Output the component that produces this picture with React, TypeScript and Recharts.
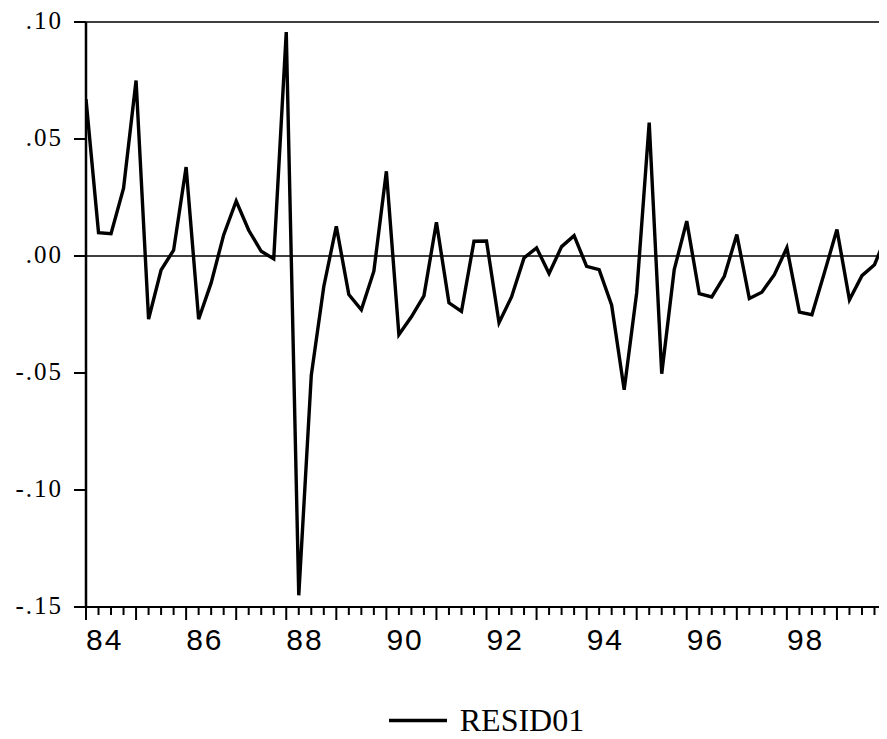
import React from 'react';
import { LineChart, Line, XAxis, YAxis, ReferenceLine, Legend } from 'recharts';

const startYear = 1984;
const residuals = [
  0.067, 0.010, 0.0095, 0.029, 0.075, -0.027, -0.006, 0.0025,
  0.038, -0.027, -0.0115, 0.009, 0.0235, 0.011, 0.002, -0.0012,
  0.0957, -0.145, -0.051, -0.013, 0.0127, -0.0165, -0.023, -0.0065,
  0.0362, -0.0336, -0.026, -0.017, 0.0144, -0.020, -0.0237, 0.0063,
  0.0064, -0.0285, -0.0175, -0.0008, 0.0035, -0.0075, 0.004, 0.0087,
  -0.0044, -0.0058, -0.021, -0.0572, -0.0157, 0.057, -0.0503, -0.0058,
  0.0149, -0.0161, -0.0175, -0.0087, 0.0092, -0.0182, -0.0155, -0.008,
  0.0035, -0.024, -0.0251, -0.0071, 0.0113, -0.0187, -0.0084, -0.0037,
  0.0092,
];
const yTicks = [-0.15, -0.1, -0.05, 0, 0.05, 0.1];
const xTicks = residuals.slice(0, 64).map((_, i) => startYear + i / 4);
const seriesName = 'RESID01';

const data = residuals.map((v, i) => ({ t: startYear + i / 4, v }));

const fmtY = (v: number) => {
  const s = v.toFixed(2);
  return s.replace('0.', '.');
};

const XTick = (props: any) => {
  const { x, y, payload } = props;
  const val = payload.value as number;
  const isYear = Math.abs(val - Math.round(val)) < 1e-9;
  const yr = Math.round(val);
  const showLabel = isYear && yr % 2 === 0;
  return (
    <g>
      <line x1={x} x2={x} y1={y} y2={y + (isYear ? 13 : 8)} stroke="#000" strokeWidth={2} />
      {showLabel && (
        <text
          x={x}
          y={y + 43}
          textAnchor="start"
          fontFamily="'Liberation Sans', Arial, sans-serif"
          fontSize={30}
          letterSpacing={2}
          fill="#000"
        >
          {String(yr % 100).padStart(2, '0')}
        </text>
      )}
    </g>
  );
};

const YTick = (props: any) => {
  const { x, y, payload } = props;
  return (
    <g>
      <line x1={x - 12} x2={x} y1={y} y2={y} stroke="#000" strokeWidth={2} />
      <text
        x={x - 23}
        y={y + 7}
        textAnchor="end"
        fontFamily="'Liberation Serif', 'Times New Roman', serif"
        fontSize={25}
        letterSpacing={2}
        fill="#000"
      >
        {fmtY(payload.value)}
      </text>
    </g>
  );
};

const LegendContent = () => (
  <div
    style={{
      marginLeft: 86,
      width: 801,
      height: 50,
      boxSizing: 'border-box',
      paddingTop: 12,
      display: 'flex',
      justifyContent: 'center',
      alignItems: 'center',
    }}
  >
    <svg width={58} height={5} style={{ display: 'block' }}>
      <line x1={0} x2={58} y1={2.5} y2={2.5} stroke="#000" strokeWidth={3.5} />
    </svg>
    <span
      style={{
        marginLeft: 13,
        fontFamily: "'Liberation Serif', 'Times New Roman', serif",
        fontSize: 32,
        color: '#000',
        lineHeight: '36px',
      }}
    >
      {seriesName}
    </span>
  </div>
);

export default function App() {
  return (
    <div style={{ marginLeft: -8, marginTop: -8, width: 887, height: 739, background: '#fff' }}>
      <LineChart width={887} height={739} data={data} margin={{ top: 22, right: 0, left: 0, bottom: 0 }}>
        <XAxis
          dataKey="t"
          type="number"
          domain={[1984, 2000]}
          ticks={xTicks}
          interval={0}
          height={82}
          tickSize={0}
          tickMargin={0}
          tickLine={false}
          axisLine={{ stroke: '#000', strokeWidth: 2.2 }}
          tick={<XTick />}
          allowDataOverflow
        />
        <YAxis
          type="number"
          domain={[-0.15, 0.1]}
          ticks={yTicks}
          interval={0}
          width={86}
          tickSize={0}
          tickMargin={0}
          tickLine={false}
          axisLine={{ stroke: '#000', strokeWidth: 2.5 }}
          tick={<YTick />}
          allowDataOverflow
        />
        <ReferenceLine y={0.1} stroke="#000" strokeWidth={1.6} />
        <ReferenceLine y={0} stroke="#000" strokeWidth={1.3} />
        <Line
          type="linear"
          dataKey="v"
          name={seriesName}
          stroke="#000"
          strokeWidth={3.4}
          dot={false}
          isAnimationActive={false}
        />
        <Legend verticalAlign="bottom" content={<LegendContent />} />
      </LineChart>
    </div>
  );
}
